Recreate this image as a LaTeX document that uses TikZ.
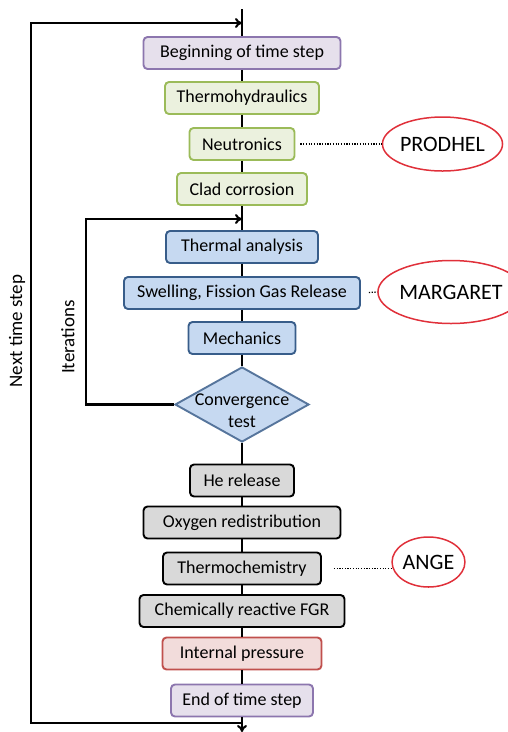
\documentclass[tikz,border=0pt]{standalone}
\usepackage{fontspec}
\setmainfont{Carlito}
\usetikzlibrary{shapes.geometric,arrows.meta}
\definecolor{purpF}{HTML}{E6E0EC}
\definecolor{purpD}{HTML}{8C76AE}
\definecolor{greenF}{HTML}{EBF1DE}
\definecolor{greenD}{HTML}{9BBB59}
\definecolor{blueF}{HTML}{C6D9F1}
\definecolor{blueD}{HTML}{385D8A}
\definecolor{grayF}{HTML}{D9D9D9}
\definecolor{redF}{HTML}{F2DCDB}
\definecolor{redD}{HTML}{C0504D}
\definecolor{ellD}{HTML}{E0303A}
\begin{document}
\begin{tikzpicture}[x=1pt,y=-1pt,
  box/.style={rectangle, rounded corners=4pt, line width=1.9pt, minimum height=32pt, inner sep=0pt, font=\fontsize{18}{21}\selectfont},
  purplebox/.style={box, fill=purpF, draw=purpD},
  greenbox/.style={box, fill=greenF, draw=greenD},
  bluebox/.style={box, fill=blueF, draw=blueD},
  graybox/.style={box, fill=grayF, draw=black},
  redbox/.style={box, fill=redF, draw=redD},
  decision/.style={diamond, aspect=1.79, minimum width=134pt, minimum height=75pt, inner sep=0pt, fill=blueF, draw=blueD!85, line width=1.9pt},
  link/.style={line width=2.1pt},
  arr/.style={link, -{To[length=7pt,width=10pt]}},
  dotline/.style={line width=1.3pt, dash pattern=on 1.2pt off 1.5pt},
  tool/.style={ellipse, draw=ellD, line width=1.5pt, fill=white, inner sep=0pt, font=\fontsize{22}{26}\selectfont},
  side/.style={rotate=90, font=\fontsize{19}{22}\selectfont}
]
\useasboundingbox (0,0) rectangle (507,732);

% main column
\node[purplebox, minimum width=197pt] (bts) at (242,53) {Beginning of time step};
\node[greenbox, minimum width=154pt] (th) at (242,98) {Thermohydraulics};
\node[greenbox, minimum width=105pt] (neu) at (242,144) {Neutronics};
\node[greenbox, minimum width=130pt] (clad) at (242,189) {Clad corrosion};
\node[bluebox, minimum width=152pt] (tha) at (242,247) {Thermal analysis};
\node[bluebox, minimum width=236pt] (sw) at (242,293) {Swelling, Fission Gas Release};
\node[bluebox, minimum width=107pt] (mec) at (242,338) {Mechanics};
\node[decision, label={[font=\fontsize{18}{21.5}\selectfont, align=center, yshift=-6pt]center:Convergence\\test}] (conv) at (242,404.5) {};
\node[graybox, minimum width=104pt] (he) at (242,480.5) {He release};
\node[graybox, minimum width=197pt] (oxy) at (242,522.5) {Oxygen redistribution};
\node[graybox, minimum width=158pt] (tc) at (242,568.5) {Thermochemistry};
\node[graybox, minimum width=205pt] (fgr) at (242,611) {Chemically reactive FGR};
\node[redbox, minimum width=159pt] (ip) at (242,653.5) {Internal pressure};
\node[purplebox, minimum width=142pt] (ets) at (242,700.5) {End of time step};

% codes
\node[tool, minimum width=97pt, minimum height=54pt] (prod) at (442.5,144) {PRODHEL};
\node[tool, minimum width=114pt, minimum height=63pt] (marg) at (451,292) {MARGARET};
\node[tool, minimum width=69pt, minimum height=50pt] (ange) at (428.5,562) {ANGE};

% side labels
\node[side] (nts) at (17,331) {Next time step};
\node[side] (itl) at (68,337) {Iterations};

% coordinates
\coordinate (top) at (242,9);
\coordinate (topin) at (242,23);
\coordinate (tl) at (31,23);
\coordinate (bl) at (31,723);
\coordinate (bm) at (242,723);
\coordinate (bot) at (242,732);
\coordinate (itin) at (242,219);
\coordinate (itt) at (86,219);
\coordinate (itb) at (86,404.5);

% main chain
\draw[link] (top) -- (bts);
\draw[link] (bts) -- (th);
\draw[link] (th) -- (neu);
\draw[link] (neu) -- (clad);
\draw[link] (clad) -- (tha);
\draw[link] (tha) -- (sw);
\draw[link] (sw) -- (mec);
\draw[link] (mec) -- (conv);
\draw[link] (conv) -- (he);
\draw[link] (he) -- (oxy);
\draw[link] (oxy) -- (tc);
\draw[link] (tc) -- (fgr);
\draw[link] (fgr) -- (ip);
\draw[link] (ip) -- (ets);
\draw[arr] (ets) -- (bot);

% loops
\draw[arr] (bm) -- (bl) -- (tl) -- (topin);
\draw[arr] (conv.west) -- (itb) -- (itt) -- (itin);

% dotted links
\draw[dotline, shorten <=5pt] (neu.east) -- (prod.west);
\draw[dotline, shorten <=8pt] (sw.east) -- (marg.west);
\draw[dotline, shorten <=12pt] (tc.east) -- (tc.east -| ange.west);
\end{tikzpicture}
\end{document}
